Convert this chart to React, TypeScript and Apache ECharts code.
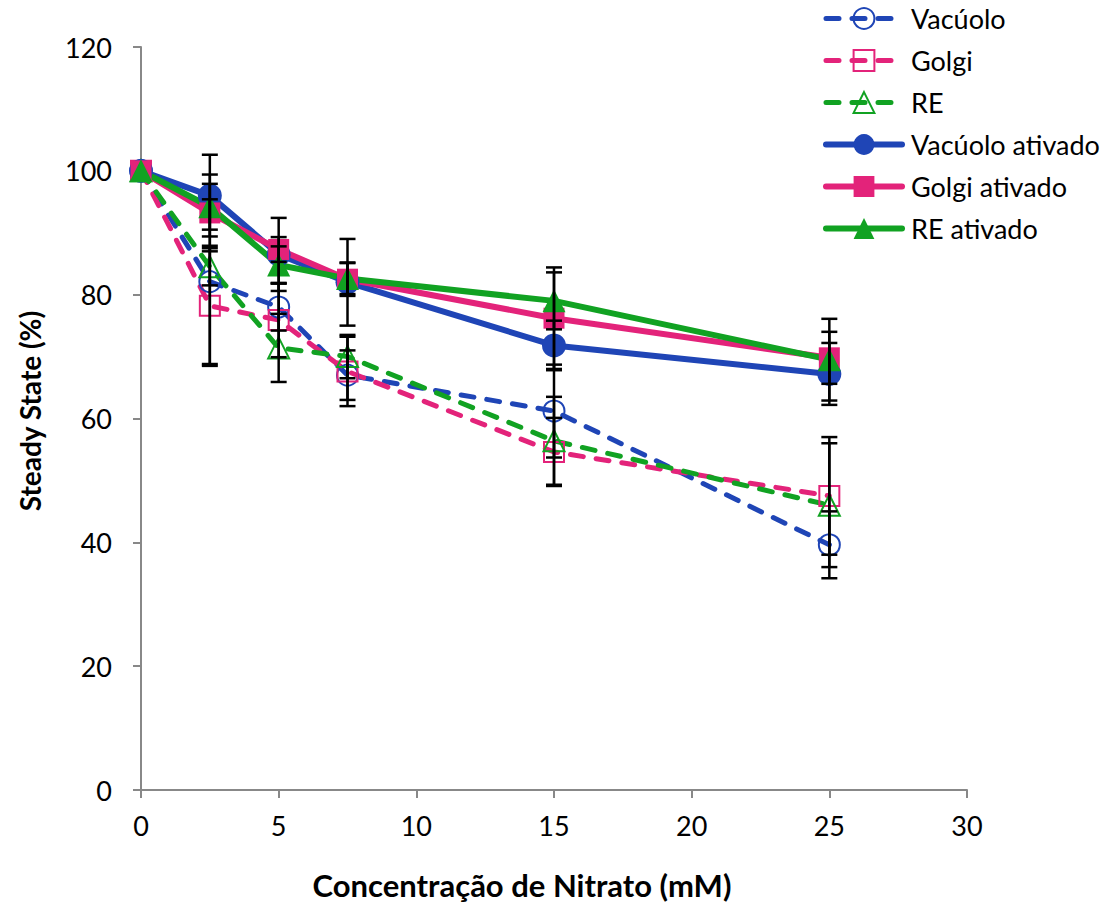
import React, { useEffect, useRef } from "react";
import * as echarts from "echarts";

const xValues = [0, 2.5, 5, 7.5, 15, 25];
const xTicks = [0, 5, 10, 15, 20, 25, 30];
const yTicks = [0, 20, 40, 60, 80, 100, 120];

const names = ["Vacúolo", "Golgi", "RE", "Vacúolo ativado", "Golgi ativado", "RE ativado"];

const vacuolo = [100, 82.1, 78.0, 67.0, 61.2, 39.6];
const golgi = [100, 78.2, 75.9, 67.6, 54.6, 47.5];
const re = [100, 84.5, 71.4, 70.0, 56.4, 46.0];
const vacuoloAtivado = [100, 96.0, 86.5, 82.0, 71.8, 67.2];
const golgiAtivado = [100, 93.2, 87.3, 82.5, 76.2, 69.8];
const reAtivado = [100, 94.2, 84.8, 82.6, 79.0, 69.5];

const vacuoloErr = [0, 13.3, 3.8, 4.0, 7.5, 5.4];
const golgiErr = [0, 9.7, 6.0, 5.6, 5.5, 9.5];
const reErr = [0, 3.0, 5.5, 3.5, 7.1, 10.0];
const vacuoloAtivadoErr = [0, 6.6, 5.9, 7.0, 4.0, 5.0];
const golgiAtivadoErr = [0, 6.2, 2.0, 2.7, 8.2, 4.2];
const reAtivadoErr = [0, 3.7, 3.0, 2.5, 4.6, 6.6];

const BLUE = "#1f45b6";
const PINK = "#e3237a";
const GREEN = "#11a222";

const FONT = "Lato, 'Open Sans', sans-serif";
const DASH = [13, 13];

export default function App() {
  const ref = useRef<HTMLDivElement>(null);
  useEffect(() => {
    document.body.style.margin = "0";
    if (!ref.current) return;
    const chart = echarts.init(ref.current, null, { renderer: "svg" });

    const pair = (ys: number[]) => xValues.map((x, i) => [x, ys[i]]);
    const triple = (ys: number[], es: number[]) => xValues.map((x, i) => [x, ys[i], es[i]]);

    const errSeries = (ys: number[], es: number[]) => ({
      type: "custom",
      silent: true,
      z: 5,
      encode: { x: 0, y: 1 },
      data: triple(ys, es).filter((d) => d[2] > 0),
      renderItem: (params: any, api: any) => {
        const x = api.value(0);
        const y = api.value(1);
        const e = api.value(2);
        const t = api.coord([x, y + e]);
        const b = api.coord([x, y - e]);
        const w = 8;
        const st = { stroke: "#000", lineWidth: 2.5 };
        return {
          type: "group",
          children: [
            { type: "line", shape: { x1: t[0], y1: t[1], x2: b[0], y2: b[1] }, style: st },
            { type: "line", shape: { x1: t[0] - w, y1: t[1], x2: t[0] + w, y2: t[1] }, style: st },
            { type: "line", shape: { x1: b[0] - w, y1: b[1], x2: b[0] + w, y2: b[1] }, style: st },
          ],
        };
      },
    });

    const dashed = (name: string, ys: number[], color: string, symbol: string, size: number) => ({
      name,
      type: "line",
      data: pair(ys),
      z: 3,
      symbol,
      symbolSize: size,
      lineStyle: { color, width: 5, type: DASH, cap: "round" },
      itemStyle: { color: "rgba(255,255,255,0)", borderColor: color, borderWidth: 2 },
      emphasis: { disabled: true },
    });
    const solid = (name: string, ys: number[], color: string, symbol: string, size: number) => ({
      name,
      type: "line",
      data: pair(ys),
      z: 4,
      symbol,
      symbolSize: size,
      lineStyle: { color, width: 6, cap: "round" },
      itemStyle: { color, borderWidth: 0 },
      emphasis: { disabled: true },
    });

    const legendData = names.map((n, i) => ({
      name: n,
      lineStyle: i < 3 ? { width: 5, type: DASH, cap: "round" } : { width: 6, cap: "round" },
    }));

    chart.setOption({
      animation: false,
      textStyle: { fontFamily: FONT },
      grid: { left: 141, right: 149, top: 47, bottom: 115, containLabel: false },
      legend: {
        data: legendData,
        orient: "vertical",
        left: 818,
        top: 0,
        itemGap: 15,
        itemWidth: 76,
        itemHeight: 26,
        textStyle: { fontFamily: FONT, fontSize: 27, color: "#000", padding: [0, 0, 0, 4] },
        selectedMode: false,
      },
      xAxis: {
        type: "value",
        min: 0,
        max: 30,
        interval: 5,
        axisLine: { lineStyle: { color: "#888", width: 2 } },
        axisTick: { show: true, length: 8, lineStyle: { color: "#888", width: 2 } },
        axisLabel: {
          color: "#000",
          fontSize: 27,
          margin: 22,
          fontFamily: FONT,
          formatter: (v: number) => (xTicks.includes(v) ? String(v) : ""),
        },
        splitLine: { show: false },
      },
      yAxis: {
        type: "value",
        min: 0,
        max: 120,
        interval: 20,
        axisLine: { show: true, lineStyle: { color: "#888", width: 2 } },
        axisTick: { show: true, length: 8, lineStyle: { color: "#888", width: 2 } },
        axisLabel: {
          color: "#000",
          fontSize: 27,
          margin: 29,
          fontFamily: FONT,
          formatter: (v: number) => (yTicks.includes(v) ? String(v) : ""),
        },
        splitLine: { show: false },
      },
      graphic: [
        {
          type: "text",
          x: 522,
          y: 885,
          style: {
            text: "Concentração de Nitrato (mM)",
            font: `bold 31px ${FONT}`,
            fill: "#000",
            align: "center",
            verticalAlign: "middle",
          },
        },
        {
          type: "text",
          x: 30,
          y: 411,
          rotation: Math.PI / 2,
          style: {
            text: "Steady State (%)",
            font: `bold 28px ${FONT}`,
            fill: "#000",
            align: "center",
            verticalAlign: "middle",
          },
        },
      ],
      series: [
        dashed(names[0], vacuolo, BLUE, "circle", 21),
        dashed(names[1], golgi, PINK, "rect", 20),
        dashed(names[2], re, GREEN, "triangle", 21),
        solid(names[3], vacuoloAtivado, BLUE, "circle", 24),
        solid(names[4], golgiAtivado, PINK, "rect", 21),
        solid(names[5], reAtivado, GREEN, "triangle", 23),
        errSeries(vacuolo, vacuoloErr),
        errSeries(golgi, golgiErr),
        errSeries(re, reErr),
        errSeries(vacuoloAtivado, vacuoloAtivadoErr),
        errSeries(golgiAtivado, golgiAtivadoErr),
        errSeries(reAtivado, reAtivadoErr),
      ],
    });
    return () => chart.dispose();
  }, []);
  return <div ref={ref} style={{ width: 1116, height: 905 }} />;
}
